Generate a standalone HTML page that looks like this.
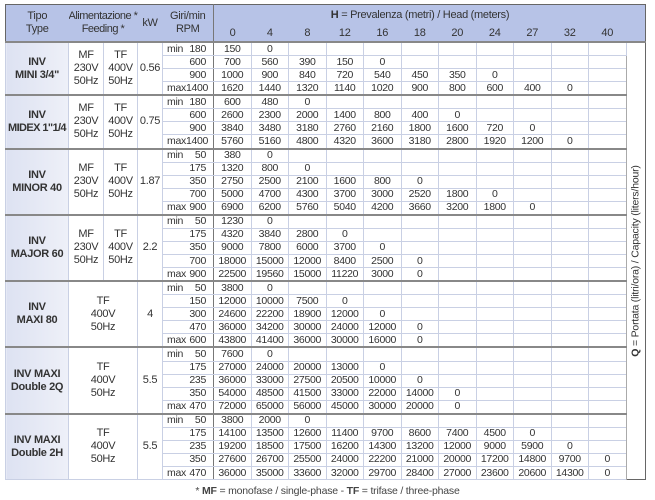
<!DOCTYPE html>
<html><head><meta charset="utf-8">
<style>
body{margin:0;width:655px;height:500px;background:#fff;font-family:"Liberation Sans",sans-serif;color:#333;position:relative;overflow:hidden}
table{position:absolute;left:5px;top:4px;width:640px;border-collapse:collapse;table-layout:fixed;border:1px solid #666}
td{border:1px solid #c9d0e4;padding:0;text-align:center;font-size:10.5px;letter-spacing:-0.3px;line-height:11px;height:12.07px;white-space:nowrap;overflow:hidden}
thead td{background:#b7c3e7;border:none;font-size:11px;line-height:13px;color:#333}
.h1 td{height:20px}
.h2 td{height:15px;vertical-align:bottom;padding-bottom:1px}
.tipo{font-weight:bold;background:linear-gradient(90deg,#dde2f2,#eef0f8);line-height:13px;font-size:11px}
.f{line-height:13px;font-size:11px}
.rpm{text-align:right;padding-right:7px;border-right:1px solid #777}
.rpm span{float:left;padding-left:4px}
tr.g td{border-top:2px solid #888}
.q{border:none;border-left:1px solid #aaa;position:relative}
.qt{position:absolute;left:50%;top:50%;transform:translate(-50%,-50%) rotate(-90deg);font-size:10.5px;letter-spacing:-0.2px;font-weight:normal;white-space:nowrap;color:#333}
.foot{position:absolute;top:485px;left:0;width:655px;text-align:center;font-size:10.5px;color:#444;letter-spacing:-0.2px}
</style></head><body>
<table>
<colgroup><col style="width:63px"><col style="width:35px"><col style="width:34px"><col style="width:25px"><col style="width:51px">
<col style="width:37.5px"><col style="width:37.5px"><col style="width:37.5px"><col style="width:37.5px"><col style="width:37.5px"><col style="width:37.5px"><col style="width:37.5px"><col style="width:37.5px"><col style="width:37.5px"><col style="width:37.5px"><col style="width:37.5px"><col style="width:19px"></colgroup>
<thead>
<tr class="h1"><td rowspan="2" style="vertical-align:middle">Tipo<br>Type</td><td colspan="2" rowspan="2" style="letter-spacing:-0.5px">Alimentazione *<br>Feeding *</td><td rowspan="2">kW</td><td rowspan="2">Giri/min<br>RPM</td><td colspan="11" style="border-left:1px solid #777"><b>H</b> = Prevalenza (metri) / Head (meters)</td><td rowspan="2"></td></tr>
<tr class="h2"><td style="border-left:1px solid #777">0</td><td>4</td><td>8</td><td>12</td><td>16</td><td>18</td><td>20</td><td>24</td><td>27</td><td>32</td><td>40</td></tr>
</thead>
<tbody>
<tr class="g"><td rowspan="4" class="tipo">INV<br>MINI 3/4"</td><td rowspan="4" class="f">MF<br>230V<br>50Hz</td><td rowspan="4" class="f">TF<br>400V<br>50Hz</td><td rowspan="4" class="f">0.56</td><td class="rpm"><span>min</span>180</td><td>150</td><td>0</td><td></td><td></td><td></td><td></td><td></td><td></td><td></td><td></td><td></td><td rowspan="33" class="q"><div class="qt"><b>Q</b> = Portata (litri/ora) / Capacity (liters/hour)</div></td></tr>
<tr><td class="rpm">600</td><td>700</td><td>560</td><td>390</td><td>150</td><td>0</td><td></td><td></td><td></td><td></td><td></td><td></td></tr>
<tr><td class="rpm">900</td><td>1000</td><td>900</td><td>840</td><td>720</td><td>540</td><td>450</td><td>350</td><td>0</td><td></td><td></td><td></td></tr>
<tr><td class="rpm"><span>max</span>1400</td><td>1620</td><td>1440</td><td>1320</td><td>1140</td><td>1020</td><td>900</td><td>800</td><td>600</td><td>400</td><td>0</td><td></td></tr>

<tr class="g"><td rowspan="4" class="tipo">INV<br><span style="letter-spacing:-0.6px">MIDEX 1"1/4</span></td><td rowspan="4" class="f">MF<br>230V<br>50Hz</td><td rowspan="4" class="f">TF<br>400V<br>50Hz</td><td rowspan="4" class="f">0.75</td><td class="rpm"><span>min</span>180</td><td>600</td><td>480</td><td>0</td><td></td><td></td><td></td><td></td><td></td><td></td><td></td><td></td></tr>
<tr><td class="rpm">600</td><td>2600</td><td>2300</td><td>2000</td><td>1400</td><td>800</td><td>400</td><td>0</td><td></td><td></td><td></td><td></td></tr>
<tr><td class="rpm">900</td><td>3840</td><td>3480</td><td>3180</td><td>2760</td><td>2160</td><td>1800</td><td>1600</td><td>720</td><td>0</td><td></td><td></td></tr>
<tr><td class="rpm"><span>max</span>1400</td><td>5760</td><td>5160</td><td>4800</td><td>4320</td><td>3600</td><td>3180</td><td>2800</td><td>1920</td><td>1200</td><td>0</td><td></td></tr>

<tr class="g"><td rowspan="5" class="tipo">INV<br>MINOR 40</td><td rowspan="5" class="f">MF<br>230V<br>50Hz</td><td rowspan="5" class="f">TF<br>400V<br>50Hz</td><td rowspan="5" class="f">1.87</td><td class="rpm"><span>min</span>50</td><td>380</td><td>0</td><td></td><td></td><td></td><td></td><td></td><td></td><td></td><td></td><td></td></tr>
<tr><td class="rpm">175</td><td>1320</td><td>800</td><td>0</td><td></td><td></td><td></td><td></td><td></td><td></td><td></td><td></td></tr>
<tr><td class="rpm">350</td><td>2750</td><td>2500</td><td>2100</td><td>1600</td><td>800</td><td>0</td><td></td><td></td><td></td><td></td><td></td></tr>
<tr><td class="rpm">700</td><td>5000</td><td>4700</td><td>4300</td><td>3700</td><td>3000</td><td>2520</td><td>1800</td><td>0</td><td></td><td></td><td></td></tr>
<tr><td class="rpm"><span>max</span>900</td><td>6900</td><td>6200</td><td>5760</td><td>5040</td><td>4200</td><td>3660</td><td>3200</td><td>1800</td><td>0</td><td></td><td></td></tr>

<tr class="g"><td rowspan="5" class="tipo">INV<br>MAJOR 60</td><td rowspan="5" class="f">MF<br>230V<br>50Hz</td><td rowspan="5" class="f">TF<br>400V<br>50Hz</td><td rowspan="5" class="f">2.2</td><td class="rpm"><span>min</span>50</td><td>1230</td><td>0</td><td></td><td></td><td></td><td></td><td></td><td></td><td></td><td></td><td></td></tr>
<tr><td class="rpm">175</td><td>4320</td><td>3840</td><td>2800</td><td>0</td><td></td><td></td><td></td><td></td><td></td><td></td><td></td></tr>
<tr><td class="rpm">350</td><td>9000</td><td>7800</td><td>6000</td><td>3700</td><td>0</td><td></td><td></td><td></td><td></td><td></td><td></td></tr>
<tr><td class="rpm">700</td><td>18000</td><td>15000</td><td>12000</td><td>8400</td><td>2500</td><td>0</td><td></td><td></td><td></td><td></td><td></td></tr>
<tr><td class="rpm"><span>max</span>900</td><td>22500</td><td>19560</td><td>15000</td><td>11220</td><td>3000</td><td>0</td><td></td><td></td><td></td><td></td><td></td></tr>

<tr class="g"><td rowspan="5" class="tipo">INV<br>MAXI 80</td><td rowspan="5" colspan="2" class="f">TF<br>400V<br>50Hz</td><td rowspan="5" class="f">4</td><td class="rpm"><span>min</span>50</td><td>3800</td><td>0</td><td></td><td></td><td></td><td></td><td></td><td></td><td></td><td></td><td></td></tr>
<tr><td class="rpm">150</td><td>12000</td><td>10000</td><td>7500</td><td>0</td><td></td><td></td><td></td><td></td><td></td><td></td><td></td></tr>
<tr><td class="rpm">300</td><td>24600</td><td>22200</td><td>18900</td><td>12000</td><td>0</td><td></td><td></td><td></td><td></td><td></td><td></td></tr>
<tr><td class="rpm">470</td><td>36000</td><td>34200</td><td>30000</td><td>24000</td><td>12000</td><td>0</td><td></td><td></td><td></td><td></td><td></td></tr>
<tr><td class="rpm"><span>max</span>600</td><td>43800</td><td>41400</td><td>36000</td><td>30000</td><td>16000</td><td>0</td><td></td><td></td><td></td><td></td><td></td></tr>

<tr class="g"><td rowspan="5" class="tipo">INV MAXI<br>Double 2Q</td><td rowspan="5" colspan="2" class="f">TF<br>400V<br>50Hz</td><td rowspan="5" class="f">5.5</td><td class="rpm"><span>min</span>50</td><td>7600</td><td>0</td><td></td><td></td><td></td><td></td><td></td><td></td><td></td><td></td><td></td></tr>
<tr><td class="rpm">175</td><td>27000</td><td>24000</td><td>20000</td><td>13000</td><td>0</td><td></td><td></td><td></td><td></td><td></td><td></td></tr>
<tr><td class="rpm">235</td><td>36000</td><td>33000</td><td>27500</td><td>20500</td><td>10000</td><td>0</td><td></td><td></td><td></td><td></td><td></td></tr>
<tr><td class="rpm">350</td><td>54000</td><td>48500</td><td>41500</td><td>33000</td><td>22000</td><td>14000</td><td>0</td><td></td><td></td><td></td><td></td></tr>
<tr><td class="rpm"><span>max</span>470</td><td>72000</td><td>65000</td><td>56000</td><td>45000</td><td>30000</td><td>20000</td><td>0</td><td></td><td></td><td></td><td></td></tr>

<tr class="g"><td rowspan="5" class="tipo">INV MAXI<br>Double 2H</td><td rowspan="5" colspan="2" class="f">TF<br>400V<br>50Hz</td><td rowspan="5" class="f">5.5</td><td class="rpm"><span>min</span>50</td><td>3800</td><td>2000</td><td>0</td><td></td><td></td><td></td><td></td><td></td><td></td><td></td><td></td></tr>
<tr><td class="rpm">175</td><td>14100</td><td>13500</td><td>12600</td><td>11400</td><td>9700</td><td>8600</td><td>7400</td><td>4500</td><td>0</td><td></td><td></td></tr>
<tr><td class="rpm">235</td><td>19200</td><td>18500</td><td>17500</td><td>16200</td><td>14300</td><td>13200</td><td>12000</td><td>9000</td><td>5900</td><td>0</td><td></td></tr>
<tr><td class="rpm">350</td><td>27600</td><td>26700</td><td>25500</td><td>24000</td><td>22200</td><td>21000</td><td>20000</td><td>17200</td><td>14800</td><td>9700</td><td>0</td></tr>
<tr><td class="rpm"><span>max</span>470</td><td>36000</td><td>35000</td><td>33600</td><td>32000</td><td>29700</td><td>28400</td><td>27000</td><td>23600</td><td>20600</td><td>14300</td><td>0</td></tr>
</tbody>
</table>
<div class="foot">* <b>MF</b> = monofase / single-phase - <b>TF</b> = trifase / three-phase</div>
</body></html>
